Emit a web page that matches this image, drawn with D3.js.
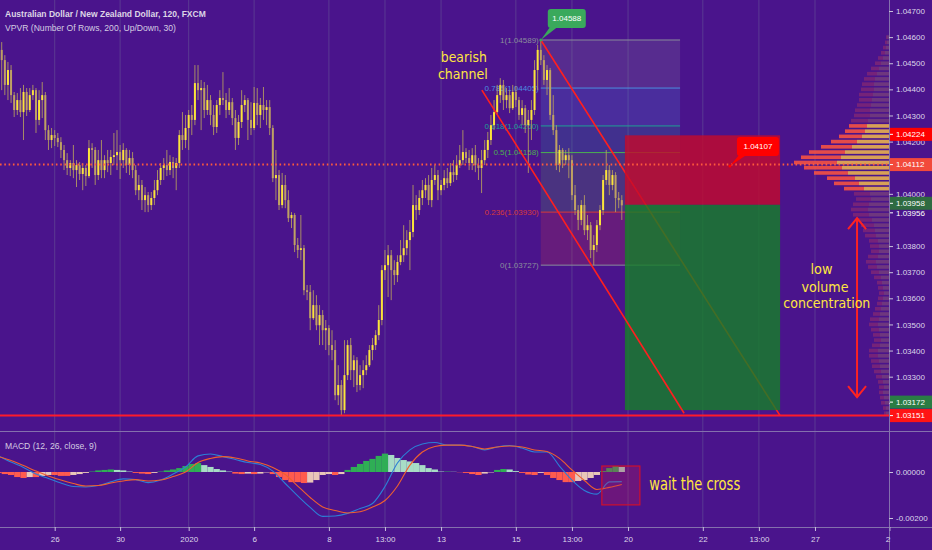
<!DOCTYPE html>
<html>
<head>
<meta charset="utf-8">
<script src="https://d3js.org/d3.v7.min.js"></script>
<style>
body { margin: 0; background: #4a148c; overflow: hidden; }
svg { display: block; font-family: "Liberation Sans", Arial, sans-serif; }
</style>
</head>
<body>
<svg id="chart" width="932" height="550"></svg>
<script>
// AUD/NZD 2h candles, [open, high, low, close]
const bars = [
[1.04474,1.04581,1.04428,1.04551],[1.04551,1.04581,1.04397,1.04512],[1.04512,1.04531,1.04378,1.04417],[1.04417,1.04505,1.04359,1.04474],
[1.04474,1.04493,1.04348,1.04378],[1.04378,1.04390,1.04294,1.04321],[1.04321,1.04386,1.04302,1.04359],[1.04359,1.04405,1.04294,1.04313],
[1.04313,1.04417,1.04206,1.04390],[1.04390,1.04405,1.04298,1.04321],[1.04321,1.04405,1.04313,1.04378],[1.04378,1.04417,1.04359,1.04397],
[1.04397,1.04405,1.04233,1.04283],[1.04283,1.04397,1.04263,1.04359],[1.04359,1.04428,1.04290,1.04378],[1.04378,1.04390,1.04206,1.04244],
[1.04244,1.04263,1.04168,1.04206],[1.04206,1.04252,1.04175,1.04225],[1.04225,1.04244,1.04183,1.04214],[1.04214,1.04233,1.04179,1.04198],
[1.04198,1.04217,1.04137,1.04168],[1.04168,1.04187,1.04091,1.04129],[1.04129,1.04156,1.04072,1.04099],[1.04099,1.04129,1.04068,1.04118],
[1.04118,1.04187,1.04060,1.04091],[1.04091,1.04129,1.04026,1.04110],[1.04110,1.04122,1.04053,1.04076],[1.04076,1.04118,1.04014,1.04099],
[1.04099,1.04110,1.04030,1.04068],[1.04068,1.04206,1.04060,1.04175],[1.04175,1.04194,1.04099,1.04168],[1.04168,1.04179,1.04034,1.04072],
[1.04072,1.04168,1.04053,1.04129],[1.04129,1.04206,1.04060,1.04091],[1.04091,1.04148,1.04060,1.04129],[1.04129,1.04168,1.04083,1.04118],
[1.04118,1.04168,1.04072,1.04141],[1.04141,1.04233,1.04110,1.04148],[1.04148,1.04244,1.04091,1.04160],[1.04160,1.04187,1.04057,1.04129],
[1.04129,1.04194,1.04099,1.04168],[1.04168,1.04175,1.04080,1.04110],[1.04110,1.04168,1.04072,1.04137],[1.04137,1.04160,1.04060,1.04091],
[1.04091,1.04110,1.03995,1.04014],[1.04014,1.04072,1.03976,1.04034],[1.04034,1.04053,1.03938,1.03976],[1.03976,1.04026,1.03930,1.03995],
[1.03995,1.04007,1.03930,1.03957],[1.03957,1.04007,1.03938,1.03984],[1.03984,1.04053,1.03957,1.04014],[1.04014,1.04091,1.03995,1.04053],
[1.04053,1.04118,1.04034,1.04099],[1.04099,1.04137,1.04053,1.04110],[1.04110,1.04168,1.04068,1.04091],[1.04091,1.04148,1.04072,1.04122],
[1.04122,1.04141,1.04060,1.04099],[1.04099,1.04137,1.04014,1.04118],[1.04118,1.04244,1.04099,1.04225],[1.04225,1.04313,1.04168,1.04206],
[1.04206,1.04302,1.04175,1.04252],[1.04252,1.04321,1.04168,1.04302],[1.04302,1.04340,1.04225,1.04283],[1.04283,1.04493,1.04263,1.04424],
[1.04424,1.04493,1.04359,1.04397],[1.04397,1.04436,1.04244,1.04405],[1.04405,1.04428,1.04290,1.04321],[1.04321,1.04417,1.04302,1.04359],
[1.04359,1.04378,1.04263,1.04302],[1.04302,1.04340,1.04225,1.04256],[1.04256,1.04359,1.04233,1.04340],[1.04340,1.04397,1.04302,1.04367],
[1.04367,1.04466,1.04340,1.04359],[1.04359,1.04386,1.04290,1.04321],[1.04321,1.04405,1.04302,1.04351],[1.04351,1.04367,1.04263,1.04290],
[1.04290,1.04321,1.04168,1.04214],[1.04214,1.04302,1.04187,1.04275],[1.04275,1.04397,1.04252,1.04340],[1.04340,1.04378,1.04313,1.04359],
[1.04359,1.04367,1.04206,1.04283],[1.04283,1.04351,1.04225,1.04252],[1.04252,1.04409,1.04244,1.04348],[1.04348,1.04405,1.04263,1.04302],
[1.04302,1.04367,1.04252,1.04340],[1.04340,1.04409,1.04283,1.04321],[1.04321,1.04359,1.04263,1.04332],[1.04332,1.04359,1.04225,1.04252],
[1.04252,1.04263,1.04045,1.04060],[1.04060,1.04168,1.03976,1.04072],[1.04072,1.04091,1.03938,1.03957],[1.03957,1.04080,1.03945,1.04034],
[1.04034,1.04072,1.03945,1.03976],[1.03976,1.04014,1.03892,1.03907],[1.03907,1.03930,1.03869,1.03919],[1.03919,1.03926,1.03777,1.03804],
[1.03804,1.03831,1.03754,1.03785],[1.03785,1.03919,1.03746,1.03792],[1.03792,1.03804,1.03612,1.03631],[1.03631,1.03651,1.03593,1.03624],
[1.03624,1.03651,1.03478,1.03524],[1.03524,1.03631,1.03517,1.03574],[1.03574,1.03612,1.03478,1.03497],[1.03497,1.03574,1.03421,1.03536],
[1.03536,1.03555,1.03421,1.03478],[1.03478,1.03517,1.03402,1.03486],[1.03486,1.03497,1.03382,1.03421],[1.03421,1.03478,1.03363,1.03402],
[1.03402,1.03440,1.03210,1.03229],[1.03229,1.03344,1.03191,1.03268],[1.03268,1.03287,1.03151,1.03172],[1.03172,1.03440,1.03160,1.03306],
[1.03306,1.03440,1.03287,1.03421],[1.03421,1.03448,1.03287,1.03325],[1.03325,1.03382,1.03260,1.03363],[1.03363,1.03375,1.03241,1.03268],
[1.03268,1.03344,1.03248,1.03306],[1.03306,1.03363,1.03256,1.03325],[1.03325,1.03382,1.03306,1.03344],[1.03344,1.03421,1.03337,1.03402],
[1.03402,1.03448,1.03363,1.03421],[1.03421,1.03478,1.03402,1.03459],[1.03459,1.03574,1.03440,1.03517],[1.03517,1.03727,1.03497,1.03708],
[1.03708,1.03785,1.03670,1.03727],[1.03727,1.03804,1.03605,1.03765],[1.03765,1.03785,1.03593,1.03708],[1.03708,1.03746,1.03651,1.03689],
[1.03689,1.03765,1.03662,1.03739],[1.03739,1.03823,1.03727,1.03765],[1.03765,1.03880,1.03739,1.03792],[1.03792,1.03861,1.03765,1.03823],
[1.03823,1.03900,1.03708,1.03854],[1.03854,1.04034,1.03834,1.03957],[1.03957,1.03995,1.03900,1.03938],[1.03938,1.04014,1.03919,1.03984],
[1.03984,1.04053,1.03957,1.04014],[1.04014,1.04060,1.03984,1.04034],[1.04034,1.04072,1.03957,1.03976],[1.03976,1.04099,1.03949,1.04053],
[1.04053,1.04110,1.04034,1.04072],[1.04072,1.04091,1.03976,1.04014],[1.04014,1.04053,1.03995,1.04034],[1.04034,1.04091,1.04014,1.04060],
[1.04060,1.04099,1.04022,1.04041],[1.04041,1.04118,1.04030,1.04083],[1.04083,1.04129,1.04045,1.04072],[1.04072,1.04148,1.04053,1.04110],
[1.04110,1.04187,1.04099,1.04129],[1.04129,1.04244,1.04110,1.04160],[1.04160,1.04175,1.04118,1.04137],[1.04137,1.04168,1.04091,1.04118],
[1.04118,1.04175,1.04091,1.04148],[1.04148,1.04187,1.04083,1.04110],[1.04110,1.04137,1.04053,1.04099],[1.04099,1.04168,1.04003,1.04129],
[1.04129,1.04206,1.04110,1.04168],[1.04168,1.04237,1.04137,1.04206],[1.04206,1.04302,1.04187,1.04263],[1.04263,1.04359,1.04244,1.04313],
[1.04313,1.04417,1.04302,1.04378],[1.04378,1.04443,1.04348,1.04417],[1.04417,1.04436,1.04321,1.04359],[1.04359,1.04405,1.04328,1.04378],
[1.04378,1.04397,1.04309,1.04328],[1.04328,1.04417,1.04321,1.04390],[1.04390,1.04413,1.04332,1.04359],[1.04359,1.04371,1.04283,1.04302],
[1.04302,1.04359,1.04263,1.04328],[1.04328,1.04340,1.04233,1.04263],[1.04263,1.04321,1.04080,1.04283],[1.04283,1.04359,1.04206,1.04321],
[1.04321,1.04512,1.04302,1.04474],[1.04474,1.04570,1.04397,1.04551],[1.04551,1.04589,1.04493,1.04512],[1.04512,1.04531,1.04417,1.04436],
[1.04436,1.04493,1.04378,1.04474],[1.04474,1.04482,1.04283,1.04302],[1.04302,1.04378,1.04225,1.04244],[1.04244,1.04263,1.04091,1.04110],
[1.04110,1.04187,1.04083,1.04168],[1.04168,1.04175,1.04099,1.04129],[1.04129,1.04168,1.04110,1.04148],[1.04148,1.04175,1.04060,1.04129],
[1.04129,1.04148,1.03976,1.03995],[1.03995,1.04034,1.03919,1.03938],[1.03938,1.03957,1.03861,1.03900],[1.03900,1.03976,1.03880,1.03957],
[1.03957,1.03995,1.03842,1.03861],[1.03861,1.03919,1.03823,1.03880],[1.03880,1.03892,1.03754,1.03785],[1.03785,1.03842,1.03727,1.03804],
[1.03804,1.03900,1.03777,1.03880],[1.03880,1.03957,1.03861,1.03938],[1.03938,1.04072,1.03919,1.04053],[1.04053,1.04168,1.04034,1.04091],
[1.04091,1.04110,1.03995,1.04034],[1.04034,1.04091,1.04014,1.04072],[1.04072,1.04083,1.03930,1.03984],[1.03984,1.04007,1.03945,1.03976],
[1.03976,1.03995,1.03900,1.03956]
];

// time axis (bar index -> label)
const timeTickIdx = [18, 39, 61, 82, 106, 124, 142, 166, 184, 202, 226, 244, 262, 286];
const timeTickLabels = ["26", "30", "2020", "6", "8", "13:00", "13", "15", "13:00", "20", "22", "13:00", "27", "29"];

// price axis ticks (1.04100 and 1.03900 sit under the price tags)
const priceTicks = [1.047, 1.046, 1.045, 1.044, 1.043, 1.042, 1.040, 1.038, 1.037, 1.036, 1.035, 1.034, 1.033, 1.032];
const macdTicks = [0, -0.002];

// MACD (12, 26, close, 9) sampled every 4 bars
const macdStep = 4;
const macdLine = [0.00070,0.00043,0.00020,-0.00009,-0.00028,-0.00048,-0.00063,-0.00065,-0.00059,-0.00043,
  -0.00030,-0.00033,-0.00046,-0.00035,-0.00009,0.00022,0.00070,0.00078,0.00067,0.00054,
  0.00041,0.00033,0.00004,-0.00050,-0.00104,-0.00154,-0.00193,-0.00191,-0.00180,-0.00159,
  -0.00137,-0.00063,0.00039,0.00096,0.00122,0.00128,0.00117,0.00117,0.00111,0.00096,
  0.00109,0.00115,0.00104,0.00087,0.00087,0.00026,-0.00035,-0.00080,-0.00096,-0.00043,-0.00042];
const signalLine = [0.00067,0.00050,0.00028,0.00004,-0.00017,-0.00035,-0.00050,-0.00061,-0.00059,-0.00048,
  -0.00039,-0.00033,-0.00039,-0.00035,-0.00020,0.00000,0.00041,0.00059,0.00067,0.00061,
  0.00048,0.00039,0.00020,-0.00011,-0.00061,-0.00111,-0.00152,-0.00167,-0.00178,-0.00173,
  -0.00152,-0.00124,-0.00061,0.00030,0.00087,0.00111,0.00117,0.00117,0.00111,0.00100,
  0.00109,0.00113,0.00109,0.00096,0.00089,0.00059,0.00009,-0.00037,-0.00076,-0.00067,-0.00054];
// histogram sampled every 2 bars
const histStep = 2;
const histogram = [-0.00004,-0.00009,-0.00013,-0.00022,-0.00026,-0.00022,-0.00022,-0.00017,-0.00013,-0.00013,
  -0.00017,-0.00017,-0.00013,-0.00009,-0.00004,0.00002,0.00007,0.00009,0.00011,0.00009,
  0.00007,0.00002,-0.00004,-0.00007,-0.00009,-0.00004,0.00002,0.00007,0.00011,0.00017,
  0.00026,0.00035,0.00039,0.00030,0.00022,0.00013,0.00007,0.00002,-0.00007,-0.00009,
  -0.00007,-0.00009,-0.00007,-0.00002,-0.00009,-0.00022,-0.00035,-0.00044,-0.00044,-0.00048,
  -0.00046,-0.00035,-0.00013,-0.00009,-0.00013,-0.00009,0.00009,0.00022,0.00035,0.00048,
  0.00057,0.00070,0.00080,0.00074,0.00061,0.00052,0.00046,0.00039,0.00030,0.00017,
  0.00011,0.00002,0.00002,0.00001,-0.00001,-0.00004,-0.00009,-0.00013,-0.00007,-0.00002,
  0.00009,0.00013,0.00011,0.00004,-0.00004,-0.00011,-0.00013,-0.00004,-0.00013,-0.00026,
  -0.00035,-0.00044,-0.00044,-0.00039,-0.00035,-0.00026,-0.00013,0.00004,0.00017,0.00026,
  0.00022];

// VPVR rows (bottom row starts at vpLow), up / down volume
const vpLow = 1.0315, vpStep = 0.0002;
const vpUp = [3,3,4,5,6,5,6,7,8,9,10,11,11,9,8,9,10,11,10,9,8,7,6,5,6,7,8,10,12,13,11,10,10,11,13,14,15,17,20,21,
  20,18,19,25,30,34,41,47,52,48,44,37,32,27,24,22,21,19,19,18,17,16,15,15,14,12,10,8,6,4,3,2,2];
const vpDown = [2,3,4,4,4,5,5,6,7,8,8,9,9,8,7,7,8,9,9,7,6,5,5,5,5,5,7,8,9,10,10,8,9,9,11,12,13,14,16,17,
  16,15,16,20,25,28,34,38,43,40,36,31,26,23,20,18,17,16,15,14,13,14,13,12,11,10,8,6,5,4,3,2,1];
const valueArea = [1.0401, 1.0427];

// Fibonacci retracement
const fibLevels = [1, 0.786, 0.618, 0.5, 0.236, 0];
const fibPrices = [1.04589, 1.04405, 1.04260, 1.04158, 1.03930, 1.03727];
const fibColors = ["#8a8d9c", "#4d8fe0", "#1fa094", "#4caf50", "#d83a3a", "#8a8d9c"];
const fibSpan = [174, 218.7];

// short position tool
const position = { from: 201, to: 250.8, stop: 1.04224, entry: 1.03958, target: 1.03172 };

// channel lines [barIndex, price]
const channelUpper = [[174, 1.04589], [250.8, 1.03151]];
const channelLower = [[155.1, 1.04397], [220, 1.03160]];

const supportLine = 1.03151;
const dottedLevel = 1.04112;
const lastPrice = 1.03956;

const svg = d3.select("#chart");
const W = 932, H = 550, paneR = 889, mainB = 431, macdB = 527;

const x = d3.scaleLinear().domain([0, 200]).range([-1.4, 621.8]);
const y = d3.scaleLinear().domain([1.032, 1.047]).range([402.8, 11]);
const yM = d3.scaleLinear().domain([-0.002, 0]).range([518, 472]);

svg.append("rect").attr("width", W).attr("height", H).attr("fill", "#4a148c");

const defs = svg.append("defs");
defs.append("clipPath").attr("id", "clipMain").append("rect").attr("width", paneR).attr("height", mainB);
defs.append("clipPath").attr("id", "clipMacd").append("rect").attr("y", mainB + 1).attr("width", paneR).attr("height", macdB - mainB - 1);
defs.append("clipPath").attr("id", "clipTime").append("rect").attr("y", macdB).attr("width", 890.5).attr("height", 23);

// vertical grid
svg.append("g").selectAll("line").data(timeTickIdx.filter(d => x(d) < paneR)).join("line")
  .attr("x1", d => x(d)).attr("x2", d => x(d)).attr("y1", 0).attr("y2", macdB)
  .attr("stroke", "#5a3a92").attr("stroke-width", 1);

const main = svg.append("g").attr("clip-path", "url(#clipMain)");

// volume profile
const vpTot = vpUp.map((u, k) => u + vpDown[k]);
const vpW = d3.scaleLinear().domain([0, d3.max(vpTot)]).range([0, 95]);
const vp = main.append("g");
vpUp.forEach((u, k) => {
  const lo = vpLow + k * vpStep, hi = lo + vpStep;
  const inVA = lo >= valueArea[0] - 1e-9 && hi <= valueArea[1] + 1e-9;
  const y0 = y(hi) + 0.8, h = y(lo) - y(hi) - 1.6;
  vp.append("rect").attr("x", paneR - vpW(u)).attr("y", y0).attr("width", vpW(u)).attr("height", h)
    .attr("fill", "#f1b84c").attr("opacity", inVA ? 0.85 : 0.22);
  vp.append("rect").attr("x", paneR - vpW(u + vpDown[k])).attr("y", y0).attr("width", vpW(vpDown[k])).attr("height", h)
    .attr("fill", "#ff553e").attr("opacity", inVA ? 0.85 : 0.24);
});

// fib retracement
const fib = main.append("g");
for (let i = 0; i < fibLevels.length - 1; i++) {
  fib.append("rect").attr("x", x(fibSpan[0])).attr("width", x(fibSpan[1]) - x(fibSpan[0]))
    .attr("y", y(fibPrices[i])).attr("height", y(fibPrices[i + 1]) - y(fibPrices[i]))
    .attr("fill", fibColors[i]).attr("opacity", 0.2);
}
fibLevels.forEach((lv, i) => {
  fib.append("line").attr("x1", x(fibSpan[0])).attr("x2", x(fibSpan[1]))
    .attr("y1", y(fibPrices[i])).attr("y2", y(fibPrices[i])).attr("stroke", fibColors[i]).attr("stroke-width", 1);
  fib.append("text").attr("x", x(fibSpan[0]) - 2).attr("y", y(fibPrices[i])).attr("dy", "0.35em")
    .attr("text-anchor", "end").attr("font-size", 8).attr("fill", fibColors[i])
    .text(lv + "(" + fibPrices[i].toFixed(5) + ")");
});

// candles
const cg = main.append("g");
bars.forEach((b, i) => {
  const [o, h, l, c] = b, up = c >= o;
  cg.append("line").attr("x1", x(i)).attr("x2", x(i)).attr("y1", y(h)).attr("y2", y(l))
    .attr("stroke", "#b39a62").attr("stroke-width", 1).attr("opacity", 0.9);
  const top = y(Math.max(o, c)), bh = Math.max(1, Math.abs(y(o) - y(c)));
  cg.append("rect").attr("x", x(i) - 1).attr("y", top).attr("width", 2).attr("height", bh)
    .attr("fill", up ? "#fbe43a" : "#bfa163");
});

// upper channel line (beneath position tool)
const lineGen = d3.line().x(d => x(d[0])).y(d => y(d[1]));
main.append("path").attr("d", lineGen(channelUpper)).attr("stroke", "#ff1f1f").attr("stroke-width", 1.6).attr("fill", "none");

// position tool
main.append("rect").attr("x", x(position.from)).attr("width", x(position.to) - x(position.from))
  .attr("y", y(position.stop)).attr("height", y(position.entry) - y(position.stop))
  .attr("fill", "#c40a2a").attr("opacity", 0.8);
main.append("rect").attr("x", x(position.from)).attr("width", x(position.to) - x(position.from))
  .attr("y", y(position.entry)).attr("height", y(position.target) - y(position.entry))
  .attr("fill", "#148127").attr("opacity", 0.8);

main.append("path").attr("d", lineGen(channelLower)).attr("stroke", "#ff1f1f").attr("stroke-width", 1.6).attr("fill", "none");

// horizontal levels
main.append("line").attr("x1", 0).attr("x2", paneR).attr("y1", y(dottedLevel)).attr("y2", y(dottedLevel))
  .attr("stroke", "#ff5a3c").attr("stroke-width", 2).attr("stroke-dasharray", "1.6 2.7");
main.append("line").attr("x1", 0).attr("x2", paneR).attr("y1", y(supportLine)).attr("y2", y(supportLine))
  .attr("stroke", "#ff1a2a").attr("stroke-width", 2);

// callouts
function callout(idx, price, text, fill, dx, dy, w) {
  const ax = x(idx), ay = y(price), bx = ax + dx, by = ay + dy;
  const g = main.append("g");
  g.append("path").attr("d", `M${bx + 3},${by + 17} L${bx + 11},${by + 17} L${ax},${ay} Z`).attr("fill", fill);
  g.append("rect").attr("x", bx).attr("y", by).attr("width", w).attr("height", 19).attr("rx", 3).attr("fill", fill);
  g.append("text").attr("x", bx + w / 2).attr("y", by + 9.5).attr("dy", "0.35em").attr("text-anchor", "middle")
    .attr("font-size", 8).attr("fill", "#ffffff").text(text);
  g.append("circle").attr("cx", ax).attr("cy", ay).attr("r", 1.5).attr("fill", fill);
}
callout(174, 1.04589, "1.04588", "#3aa95c", 7, -31, 38);
callout(234.7, 1.04107, "1.04107", "#ff0000", 7, -29, 42);

// double arrow
const arrow = { idx: 275.5, top: 1.03907, bottom: 1.03222 };
const ax = x(arrow.idx), at = y(arrow.top), ab = y(arrow.bottom);
const ag = main.append("g").attr("stroke", "#ff2222").attr("stroke-width", 2).attr("fill", "none");
ag.append("line").attr("x1", ax).attr("x2", ax).attr("y1", at).attr("y2", ab);
ag.append("path").attr("d", `M${ax - 9},${at + 11} L${ax},${at} L${ax + 9},${at + 11}`);
ag.append("path").attr("d", `M${ax - 9},${ab - 11} L${ax},${ab} L${ax + 9},${ab - 11}`);

// annotations
const notes = [
  { t: "bearish", idx: 149.3, p: 1.04505, w: 46, fs: 14.5 },
  { t: "channel", idx: 149.0, p: 1.04440, w: 50, fs: 14.5 },
  { t: "low", idx: 264.1, p: 1.03693, w: 22, fs: 14 },
  { t: "volume", idx: 265.2, p: 1.03624, w: 47, fs: 14 },
  { t: "concentration", idx: 265.8, p: 1.03562, w: 87, fs: 14 }
];
notes.forEach(n => {
  main.append("text").attr("x", x(n.idx)).attr("y", y(n.p)).attr("text-anchor", "middle")
    .attr("font-family", "'Liberation Sans Narrow','DejaVu Sans Condensed','Liberation Sans',sans-serif")
    .attr("font-size", n.fs).attr("fill", "#ffe640")
    .attr("textLength", n.w).attr("lengthAdjust", "spacingAndGlyphs").text(n.t);
});

// legends
svg.append("text").attr("x", 5).attr("y", 17).attr("font-size", 8.5).attr("font-weight", "bold").attr("fill", "#ddd5e6")
  .text("Australian Dollar / New Zealand Dollar, 120, FXCM");
svg.append("text").attr("x", 5).attr("y", 31).attr("font-size", 8.6).attr("fill", "#d4cce2")
  .text("VPVR (Number Of Rows, 200, Up/Down, 30)");

// MACD pane
const mg = svg.append("g").attr("clip-path", "url(#clipMacd)");
histogram.forEach((v, j) => {
  const prev = j > 0 ? histogram[j - 1] : v;
  const col = v >= 0 ? (v >= prev ? "#2fae55" : "#a8dcc6") : (v <= prev ? "#ff5b4e" : "#e9c6b8");
  const xc = x(j * histStep);
  mg.append("rect").attr("x", xc - histStep * 3.116 / 2).attr("width", histStep * 3.116)
    .attr("y", Math.min(yM(v), yM(0))).attr("height", Math.abs(yM(v) - yM(0)))
    .attr("fill", col);
});
const mLine = d3.line().x((d, k) => x(k * macdStep)).y(d => yM(d)).curve(d3.curveMonotoneX);
mg.append("path").attr("d", mLine(macdLine)).attr("stroke", "#2c7fd6").attr("stroke-width", 1.1).attr("fill", "none");
mg.append("path").attr("d", mLine(signalLine)).attr("stroke", "#f0602e").attr("stroke-width", 1.1).attr("fill", "none");
const crossBox = { from: 193.6, to: 205.8, top: 0.00026, bottom: -0.00143 };
mg.append("rect").attr("x", x(crossBox.from)).attr("width", x(crossBox.to) - x(crossBox.from))
  .attr("y", yM(crossBox.top)).attr("height", yM(crossBox.bottom) - yM(crossBox.top))
  .attr("fill", "rgba(190,30,90,0.3)").attr("stroke", "#d0102c").attr("stroke-width", 1.2);
mg.append("text").attr("x", x(208.8)).attr("y", yM(-0.00078)).attr("font-size", 17)
  .attr("font-family", "'Liberation Sans Narrow','DejaVu Sans Condensed','Liberation Sans',sans-serif")
  .attr("fill", "#ffe640").attr("textLength", 91).attr("lengthAdjust", "spacingAndGlyphs").text("wait the cross");
svg.append("text").attr("x", 5).attr("y", 449).attr("font-size", 8.6).attr("fill", "#d4cce2").text("MACD (12, 26, close, 9)");

// separators
svg.append("line").attr("x1", 0).attr("x2", W).attr("y1", mainB + 0.5).attr("y2", mainB + 0.5).attr("stroke", "#8470ad");
svg.append("line").attr("x1", 0).attr("x2", W).attr("y1", macdB + 0.5).attr("y2", macdB + 0.5).attr("stroke", "#8470ad");
svg.append("line").attr("x1", paneR + 0.5).attr("x2", paneR + 0.5).attr("y1", 0).attr("y2", H).attr("stroke", "#8470ad");

// axes
function styleAxis(g) {
  g.select(".domain").remove();
  g.selectAll("line").attr("stroke", "#c8c0dc");
  g.selectAll("text").attr("fill", "#ddd6ea").attr("font-size", 8).attr("font-family", "'Liberation Sans',sans-serif");
}
svg.append("g").attr("transform", `translate(${paneR},0)`)
  .call(d3.axisRight(y).tickValues(priceTicks).tickFormat(d3.format(".5f")).tickSize(4).tickPadding(3)).call(styleAxis);
svg.append("g").attr("transform", `translate(${paneR},0)`)
  .call(d3.axisRight(yM).tickValues(macdTicks).tickFormat(d => d3.format(".5f")(d).replace("−", "-")).tickSize(4).tickPadding(3)).call(styleAxis);
svg.append("g").attr("clip-path", "url(#clipTime)").append("g").attr("transform", `translate(0,${macdB})`)
  .call(d3.axisBottom(x).tickValues(timeTickIdx).tickFormat((d, i) => timeTickLabels[i]).tickSize(4).tickPadding(5)).call(styleAxis);

// price labels on axis
const tags = [
  { p: 1.04224, bg: "#ff0000", off: -1 },
  { p: 1.04112, bg: "#f24a3b", off: 0 },
  { p: 1.03958, bg: "#2f6b41", off: -1.5 },
  { p: 1.03172, bg: "#2a7c44", off: -8 },
  { p: 1.03151, bg: "#ff1414", off: 0 }
];
tags.forEach(t => {
  const cy = y(t.p) + t.off;
  svg.append("rect").attr("x", paneR + 1).attr("y", cy - 6.5).attr("width", W - paneR - 1).attr("height", 13).attr("fill", t.bg);
  svg.append("line").attr("x1", paneR + 1).attr("x2", paneR + 4).attr("y1", cy).attr("y2", cy).attr("stroke", "#ffffff");
  svg.append("text").attr("x", paneR + 7).attr("y", cy).attr("dy", "0.35em").attr("font-size", 8).attr("fill", "#ffffff").text(t.p.toFixed(5));
});
svg.append("line").attr("x1", paneR + 1).attr("x2", paneR + 4).attr("y1", y(lastPrice) + 7.5).attr("y2", y(lastPrice) + 7.5).attr("stroke", "#ffffff");
svg.append("text").attr("x", paneR + 7).attr("y", y(lastPrice) + 7.5).attr("dy", "0.35em").attr("font-size", 8).attr("fill", "#ffffff").text(lastPrice.toFixed(5));
</script>
</body>
</html>
